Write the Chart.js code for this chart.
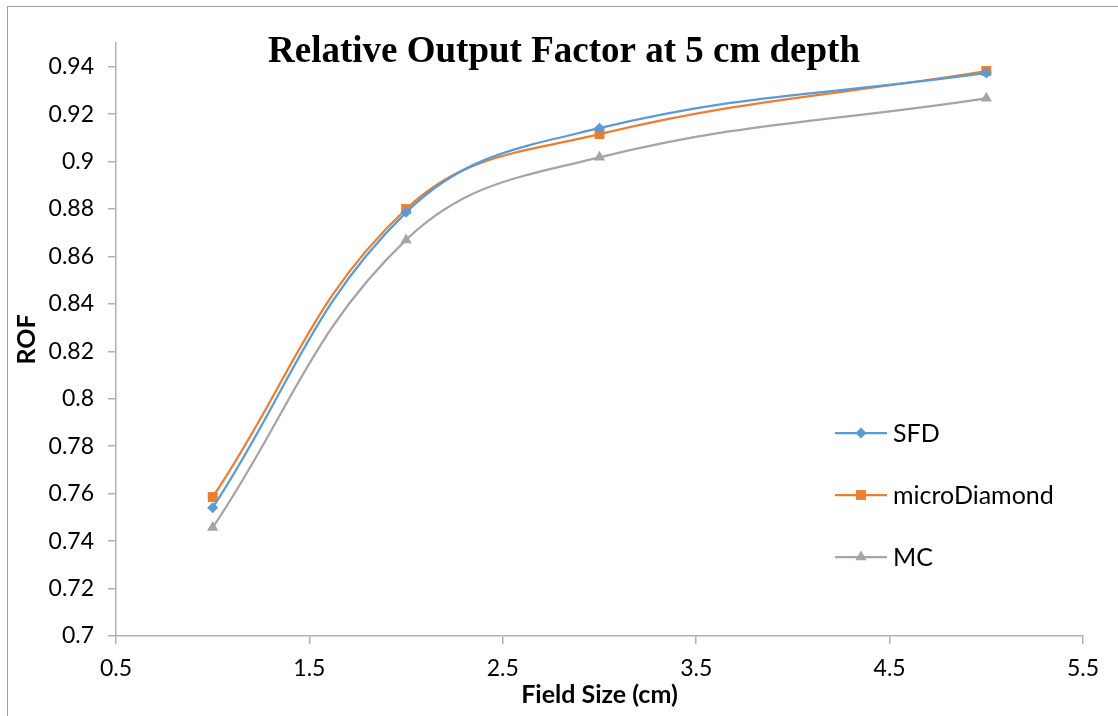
<!DOCTYPE html>
<html>
<head>
<meta charset="utf-8">
<script src="https://cdn.jsdelivr.net/npm/chart.js@4"></script>
<style>
  html, body { margin: 0; padding: 0; background: #fff; overflow: hidden; }
  #wrap { position: relative; width: 1118px; height: 716px; }
  #frame { position: absolute; left: 7px; top: 6px; width: 1200px; height: 800px; border: 1px solid #a0a0a0; }
  canvas { position: absolute; left: 0; top: 0; }
</style>
</head>
<body>
<div id="wrap">
  <div id="frame"></div>
  <canvas id="rof" width="1118" height="716"></canvas>
</div>
<script>
const fieldSizes = [1, 2, 3, 5];
const sfd = [0.7541, 0.8786, 0.9141, 0.9374];
const microDiamond = [0.7586, 0.8800, 0.9116, 0.9382];
const mc = [0.7457, 0.8670, 0.9018, 0.9267];

const xTicks = [0.5, 1.5, 2.5, 3.5, 4.5, 5.5];
const yTicks = [0.7, 0.72, 0.74, 0.76, 0.78, 0.8, 0.82, 0.84, 0.86, 0.88, 0.9, 0.92, 0.94];

const seriesNames = ['SFD', 'microDiamond', 'MC'];
const seriesColors = ['#5b9bd5', '#ed7d31', '#a5a5a5'];
const seriesMarkers = ['rectRot', 'rect', 'triangle'];
const markerSizes = [5.5, 7, 6.5];

const tickFont = { family: 'Lato', size: 23 };
const legendFont = { family: 'Lato', size: 25 };
const axisTitleFont = { family: 'Lato', size: 25, weight: 'bold' };

function toPoints(values) {
  return fieldSizes.map((x, i) => ({ x: x, y: values[i] }));
}

const datasets = [sfd, microDiamond, mc].map((values, i) => ({
  label: seriesNames[i],
  data: toPoints(values),
  borderColor: seriesColors[i],
  backgroundColor: seriesColors[i],
  borderWidth: 2.25,
  pointStyle: seriesMarkers[i],
  pointRadius: markerSizes[i],
  pointBorderWidth: 0,
  tension: 0.4,
  showLine: true
}));

// title sits over the plot area, like the spreadsheet original
const titlePlugin = {
  id: 'overTitle',
  afterDraw(chart) {
    const ctx = chart.ctx;
    ctx.save();
    ctx.font = 'bold 37px "Liberation Serif"';
    ctx.fillStyle = '#000';
    ctx.textAlign = 'center';
    ctx.textBaseline = 'alphabetic';
    ctx.fillText('Relative Output Factor at 5 cm depth', 564, 62);
    ctx.restore();
  }
};

// legend drawn inside the plot, lower right
const innerLegend = {
  id: 'innerLegend',
  afterDraw(chart) {
    const ctx = chart.ctx;
    const x0 = 835, lineLen = 52, rowTop = 433, rowGap = 62;
    ctx.save();
    chart.data.datasets.forEach((ds, i) => {
      const y = rowTop + i * rowGap;
      ctx.strokeStyle = ds.borderColor;
      ctx.lineWidth = ds.borderWidth;
      ctx.beginPath();
      ctx.moveTo(x0, y);
      ctx.lineTo(x0 + lineLen, y);
      ctx.stroke();
      ctx.fillStyle = ds.backgroundColor;
      Chart.helpers.drawPoint(ctx, {
        pointStyle: ds.pointStyle,
        radius: ds.pointRadius,
        borderWidth: 0,
        rotation: 0
      }, x0 + lineLen / 2, y);
      ctx.fillStyle = '#000';
      ctx.font = legendFont.size + 'px ' + legendFont.family;
      ctx.textBaseline = 'middle';
      ctx.textAlign = 'left';
      ctx.fillText(ds.label, x0 + lineLen + 6, y + 1);
    });
    ctx.restore();
  }
};

new Chart(document.getElementById('rof'), {
  type: 'scatter',
  data: { datasets: datasets },
  plugins: [titlePlugin, innerLegend],
  options: {
    responsive: false,
    animation: false,
    layout: { padding: { left: 0, top: 43, right: 35, bottom: 0 } },
    plugins: {
      legend: { display: false },
      title: { display: false },
      tooltip: { enabled: false }
    },
    scales: {
      x: {
        type: 'linear',
        min: 0.5,
        max: 5.5,
        afterBuildTicks(scale) { scale.ticks = xTicks.map(v => ({ value: v })); },
        afterFit(scale) { scale.height = 80; },
        ticks: {
          color: '#000',
          font: tickFont,
          padding: 11,
          maxRotation: 0,
          callback: v => String(v)
        },
        grid: { drawOnChartArea: false, drawTicks: true, tickLength: 8, color: '#b0b0b0', lineWidth: 1.5 },
        border: { color: '#b0b0b0', width: 1.5 },
        title: { display: true, text: 'Field Size (cm)', color: '#000', font: axisTitleFont, padding: { top: 0, bottom: 6 } }
      },
      y: {
        type: 'linear',
        min: 0.7,
        max: 0.95,
        afterBuildTicks(scale) { scale.ticks = yTicks.map(v => ({ value: v })); },
        afterFit(scale) { scale.width = 116; },
        ticks: {
          color: '#000',
          font: tickFont,
          padding: 14,
          callback: v => String(v)
        },
        grid: { drawOnChartArea: false, drawTicks: true, tickLength: 8, color: '#b0b0b0', lineWidth: 1.5 },
        border: { color: '#b0b0b0', width: 1.5 },
        title: { display: true, text: 'ROF', color: '#000', font: axisTitleFont, padding: { top: 12, bottom: 0 } }
      }
    }
  }
});
</script>
</body>
</html>
